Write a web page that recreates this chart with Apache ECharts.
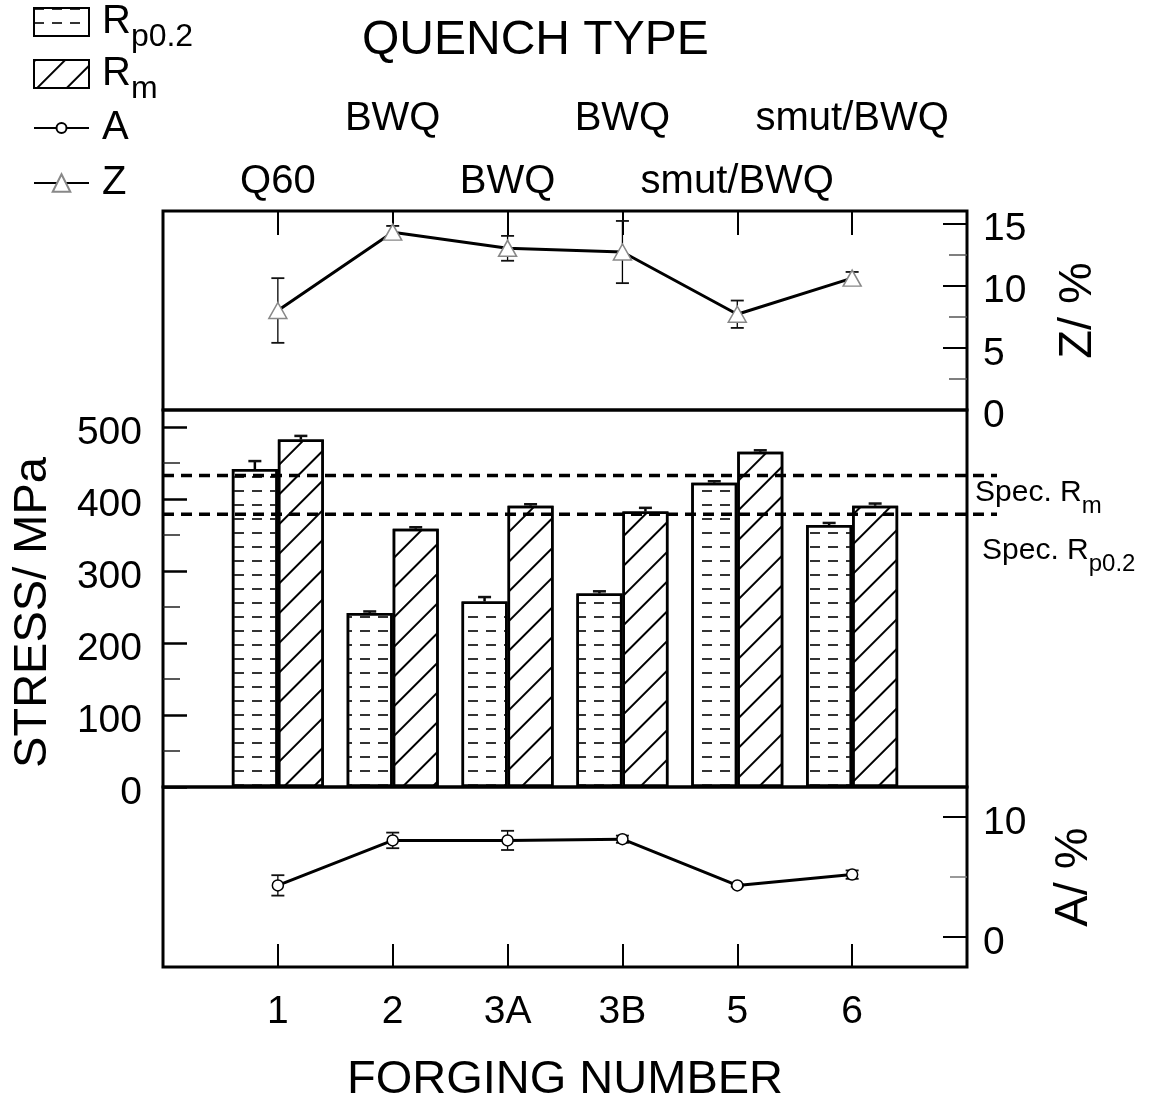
<!DOCTYPE html>
<html><head><meta charset="utf-8">
<script src="https://cdn.jsdelivr.net/npm/echarts@6/dist/echarts.min.js"></script>
<style>html,body{margin:0;padding:0;background:#fff}#c{width:1149px;height:1104px}</style>
</head><body><div id="c"></div>
<script>
// ---- data ----
const categories = ['1', '2', '3A', '3B', '5', '6'];
const quenchTypes = ['Q60', 'BWQ', 'BWQ', 'BWQ', 'smut/BWQ', 'smut/BWQ'];
const rp02 = [442, 242, 258, 269, 423, 364];
const rp02Err = [11, 2, 6, 3, 2, 3];
const rm = [483, 359, 391, 383, 466, 391];
const rmErr = [5, 2, 2, 5, 2, 3];
const elongA = [4.3, 8.05, 8.05, 8.15, 4.3, 5.2];
const elongAErr = [0.85, 0.65, 0.8, 0.3, 0.1, 0.35];
const reductionZ = [8.0, 14.3, 13.0, 12.7, 7.7, 10.6];
const reductionZErr = [2.6, 0.5, 1.0, 2.5, 1.1, 0.5];
const specValues = [433, 379];
const specNames = ['Spec. R{sub|m}', 'Spec. R{sub|p0.2}'];
const stressMajor = [0, 100, 200, 300, 400, 500];
const stressMinor = [50, 150, 250, 350, 450];
const zMajor = [0, 5, 10, 15];
const zMinor = [2.5, 7.5, 12.5];
const aMajor = [0, 10];
const aMinor = [5];

// ---- chart ----
const font = "'Liberation Sans', Arial, Helvetica, sans-serif";
const black = '#000';
const xs = categories.map((c, i) => i + 1);
const lowerRow = xs.filter((x, i) => i % 2 === 0);
const upperRow = xs.filter((x, i) => i % 2 === 1);

const rpDecal = { symbol: 'rect', symbolSize: 1, dashArrayX: [10, 8], dashArrayY: [1.3, 11.2], rotation: 0, color: '#333' };
const rmDecal = { symbol: 'rect', symbolSize: 1, dashArrayX: [1, 0], dashArrayY: [1.2, 18.5], rotation: -Math.PI / 4, color: '#000' };

function errRender(dx, both, stemW, capW, halfCap) {
  return function (params, api) {
    const x = api.value(0), y = api.value(1), e = api.value(2);
    const c = api.coord([x, y]);
    const hi = api.coord([x, y + e]);
    const lo = both ? api.coord([x, y - e]) : c;
    const px = c[0] + dx;
    const ch = [
      { type: 'line', shape: { x1: px, y1: hi[1], x2: px, y2: lo[1] }, style: { stroke: black, lineWidth: stemW } },
      { type: 'line', shape: { x1: px - halfCap, y1: hi[1], x2: px + halfCap, y2: hi[1] }, style: { stroke: '#111', lineWidth: capW } }
    ];
    if (both) ch.push({ type: 'line', shape: { x1: px - halfCap, y1: lo[1], x2: px + halfCap, y2: lo[1] }, style: { stroke: '#111', lineWidth: capW } });
    return { type: 'group', children: ch };
  };
}

const specOffsets = [{ dx: 8, dy: 17 }, { dx: 15, dy: 36 }];
function specRender(params, api) {
  const v = api.value(1);
  const cs = params.coordSys;
  const y = api.coord([0, v])[1];
  const x0 = cs.x, x1 = cs.x + cs.width;
  const o = specOffsets[params.dataIndex];
  return {
    type: 'group', children: [
      { type: 'line', shape: { x1: x0, y1: y, x2: x1 + 30, y2: y }, style: { stroke: black, lineWidth: 3.5, lineDash: [11, 7] } },
      { type: 'text', x: x1 + o.dx, y: y + o.dy, style: {
        text: specNames[params.dataIndex], fontSize: 30, fontFamily: font, fill: black,
        align: 'left', verticalAlign: 'middle',
        rich: { sub: { fontSize: 24, fontFamily: font, fill: black, padding: [28, 0, 0, 0] } } } }
    ]
  };
}

const noLine = { show: false, onZero: false };
const baseX = { type: 'value', min: 0, max: 7, splitLine: { show: false }, axisLine: noLine };
const baseY = { type: 'value', splitLine: { show: false }, axisLine: noLine };
const nameStyle = { fontSize: 47, lineHeight: 50, color: black, fontFamily: font };
const gridCommon = { left: 163, width: 804, show: true, borderColor: black, borderWidth: 3, backgroundColor: 'transparent', outerBoundsMode: 'none' };
function yLabel(values) {
  return { show: true, customValues: values, margin: 16, hideOverlap: false,
    formatter: v => '{p|' + v + '}',
    rich: { p: { fontSize: 39, color: black, fontFamily: font, padding: [12, 0, 0, 0] } } };
}

const legendText = { fontSize: 40, color: black, fontFamily: font, padding: [0, 0, 0, 8],
  rich: { sub: { fontSize: 32, color: black, fontFamily: font, padding: [30, 0, 0, 0] } } };
const legendPlain = { fontSize: 40, color: black, fontFamily: font, padding: [0, 0, 0, 8] };

const option = {
  animation: false,
  backgroundColor: '#fff',
  textStyle: { fontFamily: font, color: black },
  title: { text: 'QUENCH TYPE', left: 362, top: 17, padding: 0, textStyle: { fontSize: 48, fontWeight: 'normal', color: black, fontFamily: font } },
  legend: [
    { data: ['Rp0.2'], icon: 'rect', left: 28, top: -3, itemWidth: 55, itemHeight: 28, formatter: () => 'R{sub|p0.2}', textStyle: legendText },
    { data: ['Rm'], icon: 'rect', left: 28, top: 49, itemWidth: 55, itemHeight: 28, formatter: () => 'R{sub|m}', textStyle: legendText },
    { data: ['A'], left: 28, top: 103, itemWidth: 55, itemHeight: 12.5, textStyle: legendPlain },
    { data: ['Z'], left: 28, top: 158, itemWidth: 55, itemHeight: 22, textStyle: legendPlain }
  ],
  grid: [
    Object.assign({}, gridCommon, { top: 211, height: 199 }),
    Object.assign({}, gridCommon, { top: 410, height: 377 }),
    Object.assign({}, gridCommon, { top: 787, height: 180 })
  ],
  xAxis: [
    Object.assign({}, baseX, { gridIndex: 0, position: 'top',
      axisTick: { show: true, inside: true, length: 24, customValues: xs, lineStyle: { color: black, width: 2 } },
      axisLabel: { show: true, customValues: lowerRow, margin: 7, hideOverlap: false, fontSize: 40, lineHeight: 44, color: black, fontFamily: font,
        formatter: v => quenchTypes[Math.round(v) - 1] } }),
    Object.assign({}, baseX, { gridIndex: 1, show: false }),
    Object.assign({}, baseX, { gridIndex: 2, position: 'bottom',
      axisTick: { show: true, inside: true, length: 23, customValues: xs, lineStyle: { color: black, width: 2 } },
      axisLabel: { show: true, customValues: xs, margin: 23, hideOverlap: false, fontSize: 39, lineHeight: 44, color: black, fontFamily: font,
        formatter: v => categories[Math.round(v) - 1] },
      name: 'FORGING NUMBER', nameLocation: 'middle', nameGap: 88, nameTextStyle: nameStyle }),
    Object.assign({}, baseX, { gridIndex: 0, position: 'top',
      axisTick: { show: false },
      axisLabel: { show: true, customValues: upperRow, margin: 70, hideOverlap: false, fontSize: 40, lineHeight: 44, color: black, fontFamily: font,
        formatter: v => quenchTypes[Math.round(v) - 1] } })
  ],
  yAxis: [
    Object.assign({}, baseY, { gridIndex: 0, position: 'right', min: 0, max: 16,
      axisTick: { show: true, inside: true, length: 24, customValues: zMajor, lineStyle: { color: black, width: 2 } },
      axisLabel: yLabel(zMajor),
      name: 'Z/ %', nameLocation: 'middle', nameGap: 86, nameTextStyle: nameStyle }),
    Object.assign({}, baseY, { gridIndex: 0, position: 'right', min: 0, max: 16,
      axisTick: { show: true, inside: true, length: 18, customValues: zMinor, lineStyle: { color: '#555', width: 1.5 } },
      axisLabel: { show: false } }),
    Object.assign({}, baseY, { gridIndex: 1, position: 'left', min: 0, max: 524,
      axisTick: { show: true, inside: true, length: 24, customValues: stressMajor, lineStyle: { color: black, width: 2.5 } },
      axisLabel: Object.assign(yLabel(stressMajor), { margin: 21 }),
      name: 'STRESS/ MPa', nameLocation: 'middle', nameGap: 105, nameTextStyle: Object.assign({ padding: [0, 28, 0, 0] }, nameStyle) }),
    Object.assign({}, baseY, { gridIndex: 1, position: 'left', min: 0, max: 524,
      axisTick: { show: true, inside: true, length: 17, customValues: stressMinor, lineStyle: { color: '#222', width: 1.5 } },
      axisLabel: { show: false } }),
    Object.assign({}, baseY, { gridIndex: 2, position: 'right', min: -2.5, max: 12.5,
      axisTick: { show: true, inside: true, length: 24, customValues: aMajor, lineStyle: { color: black, width: 2 } },
      axisLabel: yLabel(aMajor),
      name: 'A/ %', nameLocation: 'middle', nameGap: 82, nameTextStyle: nameStyle }),
    Object.assign({}, baseY, { gridIndex: 2, position: 'right', min: -2.5, max: 12.5,
      axisTick: { show: true, inside: true, length: 17, customValues: aMinor, lineStyle: { color: '#777', width: 1.5 } },
      axisLabel: { show: false } })
  ],
  series: [
    { name: 'Rp0.2', type: 'bar', xAxisIndex: 1, yAxisIndex: 2, data: rp02.map((v, i) => [xs[i], v]),
      barWidth: 46, barGap: '0%', z: 2,
      itemStyle: { color: '#fff', borderColor: black, borderWidth: 2.5, decal: rpDecal } },
    { name: 'Rm', type: 'bar', xAxisIndex: 1, yAxisIndex: 2, data: rm.map((v, i) => [xs[i], v]),
      barWidth: 46, barGap: '0%', z: 2,
      itemStyle: { color: '#fff', borderColor: black, borderWidth: 2.5, decal: rmDecal } },
    { type: 'custom', xAxisIndex: 1, yAxisIndex: 2, z: 4, silent: true,
      data: rp02.map((v, i) => [xs[i], v, rp02Err[i]]), renderItem: errRender(-23, false, 2.5, 2.5, 6.5) },
    { type: 'custom', xAxisIndex: 1, yAxisIndex: 2, z: 4, silent: true,
      data: rm.map((v, i) => [xs[i], v, rmErr[i]]), renderItem: errRender(23, false, 2.5, 2.5, 6.5) },
    { type: 'custom', xAxisIndex: 1, yAxisIndex: 2, z: 5, silent: true, clip: false,
      data: specValues.map(v => [0, v]), renderItem: specRender },
    { name: 'Z', type: 'line', xAxisIndex: 0, yAxisIndex: 0, z: 3,
      data: reductionZ.map((v, i) => [xs[i], v]),
      symbol: 'triangle', symbolSize: [18, 16],
      itemStyle: { color: '#fff', borderColor: '#888', borderWidth: 1.5 },
      lineStyle: { color: black, width: 3 } },
    { type: 'custom', xAxisIndex: 0, yAxisIndex: 0, z: 1, silent: true,
      data: reductionZ.map((v, i) => [xs[i], v, reductionZErr[i]]), renderItem: errRender(0, true, 1.3, 1.8, 6.5) },
    { name: 'A', type: 'line', xAxisIndex: 2, yAxisIndex: 4, z: 3,
      data: elongA.map((v, i) => [xs[i], v]),
      symbol: 'circle', symbolSize: 11,
      itemStyle: { color: '#fff', borderColor: black, borderWidth: 1.5 },
      lineStyle: { color: black, width: 3 } },
    { type: 'custom', xAxisIndex: 2, yAxisIndex: 4, z: 1, silent: true,
      data: elongA.map((v, i) => [xs[i], v, elongAErr[i]]), renderItem: errRender(0, true, 1.3, 1.8, 6.5) }
  ]
};

const chart = echarts.init(document.getElementById('c'), null, { renderer: 'canvas' });
chart.setOption(option);
</script>
</body></html>
